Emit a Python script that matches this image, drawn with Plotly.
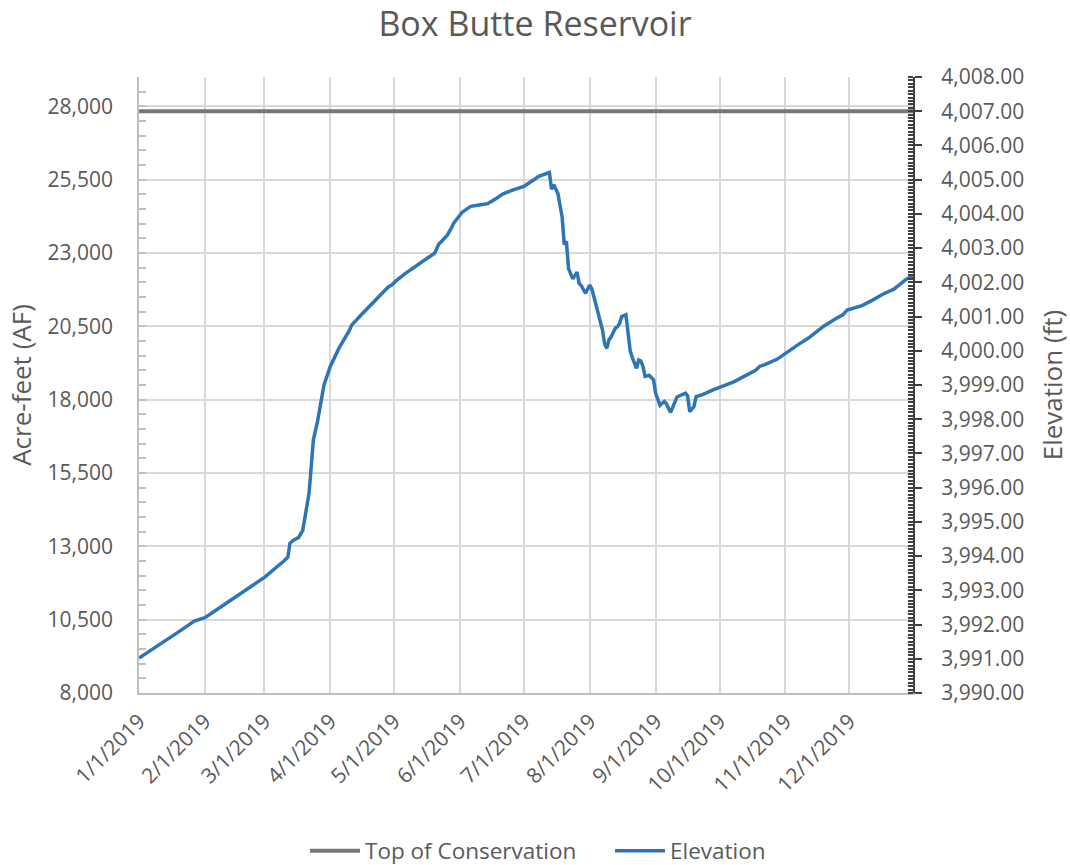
import plotly.graph_objects as go

# Daily reservoir elevation readings (ft) for 2019
elev_dates = [
    "2019-01-01", "2019-01-10", "2019-01-20", "2019-01-27", "2019-01-30", "2019-02-01",
    "2019-02-10", "2019-02-20", "2019-03-01", "2019-03-10", "2019-03-12", "2019-03-13",
    "2019-03-15", "2019-03-17", "2019-03-19", "2019-03-22", "2019-03-23", "2019-03-24",
    "2019-03-26", "2019-03-28", "2019-03-29", "2019-04-01", "2019-04-05", "2019-04-10",
    "2019-04-11", "2019-04-16", "2019-04-21", "2019-04-23", "2019-04-28", "2019-04-30",
    "2019-05-02", "2019-05-06", "2019-05-11", "2019-05-16", "2019-05-20", "2019-05-22",
    "2019-05-23", "2019-05-26", "2019-05-28", "2019-05-29", "2019-06-02", "2019-06-06",
    "2019-06-10", "2019-06-14", "2019-06-18", "2019-06-21", "2019-06-26", "2019-07-01",
    "2019-07-05", "2019-07-08", "2019-07-13", "2019-07-14", "2019-07-15", "2019-07-17",
    "2019-07-19", "2019-07-20", "2019-07-21", "2019-07-22", "2019-07-24", "2019-07-26",
    "2019-07-27", "2019-07-28", "2019-07-30", "2019-08-01", "2019-08-02", "2019-08-04",
    "2019-08-06", "2019-08-07", "2019-08-08", "2019-08-09", "2019-08-10", "2019-08-11",
    "2019-08-13", "2019-08-14", "2019-08-15", "2019-08-16", "2019-08-18", "2019-08-19",
    "2019-08-20", "2019-08-21", "2019-08-23", "2019-08-24", "2019-08-25", "2019-08-26",
    "2019-08-27", "2019-08-29", "2019-08-31", "2019-09-01", "2019-09-02", "2019-09-03",
    "2019-09-05", "2019-09-06", "2019-09-08", "2019-09-09", "2019-09-11", "2019-09-15",
    "2019-09-16", "2019-09-17", "2019-09-19", "2019-09-20", "2019-09-23", "2019-09-28",
    "2019-10-01", "2019-10-08", "2019-10-11", "2019-10-18", "2019-10-20", "2019-10-22",
    "2019-10-28", "2019-11-01", "2019-11-07", "2019-11-12", "2019-11-19", "2019-11-25",
    "2019-11-28", "2019-11-30", "2019-12-07", "2019-12-12", "2019-12-17", "2019-12-22",
    "2019-12-26", "2019-12-28", "2019-12-31",
]
elev_ft = [
    3991.02, 3991.38, 3991.80, 3992.10, 3992.16, 3992.20,
    3992.58, 3993.00, 3993.38, 3993.85, 3993.97, 3994.38,
    3994.48, 3994.54, 3994.75, 3995.85, 3996.80, 3997.39,
    3997.95, 3998.60, 3999.00, 3999.55, 4000.07, 4000.60,
    4000.75, 4001.08, 4001.40, 4001.52, 4001.85, 4001.93,
    4002.05, 4002.25, 4002.48, 4002.68, 4002.85, 4003.12,
    4003.18, 4003.38, 4003.60, 4003.73, 4004.05, 4004.22,
    4004.26, 4004.30, 4004.45, 4004.58, 4004.70, 4004.80,
    4004.97, 4005.10, 4005.21, 4004.72, 4004.85, 4004.60,
    4003.90, 4003.10, 4003.20, 4002.40, 4002.10, 4002.30,
    4001.97, 4001.90, 4001.68, 4001.92, 4001.80, 4001.30,
    4000.88, 4000.60, 4000.20, 4000.07, 4000.32, 4000.40,
    4000.66, 4000.70, 4000.80, 4001.00, 4001.05, 4000.40,
    4000.00, 3999.80, 3999.49, 3999.73, 3999.70, 3999.55,
    3999.25, 3999.28, 3999.15, 3998.75, 3998.55, 3998.41,
    3998.52, 3998.45, 3998.20, 3998.35, 3998.65, 3998.76,
    3998.68, 3998.22, 3998.37, 3998.66, 3998.72, 3998.86,
    3998.93, 3999.10, 3999.20, 3999.43, 3999.55, 3999.59,
    3999.75, 3999.93, 4000.18, 4000.38, 4000.72, 4000.95,
    4001.05, 4001.19, 4001.32, 4001.48, 4001.66, 4001.80,
    4001.98, 4002.10, 4002.18,
]

# Top of conservation pool (ft)
conservation_dates = ["2019-01-01", "2019-12-31"]
conservation_ft = [4007.0, 4007.0]

# Axis ticks
month_ticks = [
    "2019-01-01", "2019-02-01", "2019-03-01", "2019-04-01", "2019-05-01", "2019-06-01",
    "2019-07-01", "2019-08-01", "2019-09-01", "2019-10-01", "2019-11-01", "2019-12-01",
]
month_labels = [
    "1/1/2019", "2/1/2019", "3/1/2019", "4/1/2019", "5/1/2019", "6/1/2019",
    "7/1/2019", "8/1/2019", "9/1/2019", "10/1/2019", "11/1/2019", "12/1/2019",
]
af_ticks = [8000, 10500, 13000, 15500, 18000, 20500, 23000, 25500, 28000]
af_range = [8000, 29000]
ft_range = [3990, 4008]

FONT = "Open Sans"
TXT = "#595959"

fig = go.Figure()
fig.add_trace(go.Scatter(
    x=conservation_dates, y=conservation_ft, name="Top of Conservation",
    mode="lines", line=dict(color="#777777", width=4), yaxis="y2",
))
fig.add_trace(go.Scatter(
    x=elev_dates, y=elev_ft, name="Elevation",
    mode="lines", line=dict(color="#2e75b6", width=3.5), yaxis="y2",
))
# keeps the acre-feet axis attached to the base subplot
fig.add_trace(go.Scatter(
    x=[month_ticks[0]], y=[af_ticks[0]], mode="markers", opacity=0,
    showlegend=False, hoverinfo="skip", yaxis="y",
))

fig.update_layout(
    width=1070, height=865,
    margin=dict(l=139, r=157, t=77, b=172, autoexpand=False),
    paper_bgcolor="white", plot_bgcolor="white",
    font=dict(family=FONT, color=TXT),
    title=dict(text="Box Butte Reservoir", x=0.5, xanchor="center",
               y=0.972, yanchor="middle", font=dict(size=34, color=TXT)),
    xaxis=dict(
        type="date", range=["2019-01-01", "2019-12-31"],
        tickvals=month_ticks, ticktext=month_labels, tickangle=-45,
        tickfont=dict(size=21, color=TXT),
        showgrid=True, gridcolor="#d9d9d9", gridwidth=1.5,
        showline=True, linecolor="#bfbfbf", linewidth=1.5,
        ticks="", zeroline=False, automargin=False, ticklabelstandoff=6,
    ),
    yaxis=dict(
        range=af_range, tickvals=af_ticks, tickformat=",d",
        tickfont=dict(size=21, color=TXT),
        title=dict(text="Acre-feet (AF)", font=dict(size=26, color=TXT), standoff=8),
        showgrid=True, gridcolor="#d9d9d9", gridwidth=1.5,
        showline=True, linecolor="#bfbfbf", linewidth=1.5,
        ticks="inside", ticklen=7, tickcolor="#bfbfbf", tickwidth=1.5,
        ticklabelstandoff=20, automargin=False,
        minor=dict(dtick=500, ticks="inside", ticklen=7, tickcolor="#bfbfbf",
                   tickwidth=1.5, showgrid=False),
        zeroline=False,
    ),
    yaxis2=dict(
        overlaying="y", side="right", range=ft_range, dtick=1,
        tickformat=",.2f", tickfont=dict(size=21, color=TXT),
        title=dict(text="Elevation (ft)", font=dict(size=26, color=TXT), standoff=22),
        showgrid=False, showline=True, linecolor="#404040", linewidth=2,
        ticks="outside", ticklen=7, tickcolor="#404040", tickwidth=2,
        ticklabelstandoff=15, automargin=False,
        minor=dict(dtick=0.1, ticks="inside", ticklen=5, tickcolor="#404040",
                   tickwidth=1.5, showgrid=False),
        zeroline=False,
    ),
    legend=dict(orientation="h", x=(305 - 139) / 774, xanchor="left",
                y=-0.2565, yanchor="middle",
                font=dict(size=22.5, color=TXT), itemwidth=50, entrywidth=240),
    showlegend=True,
)

fig.write_html("out.html")
